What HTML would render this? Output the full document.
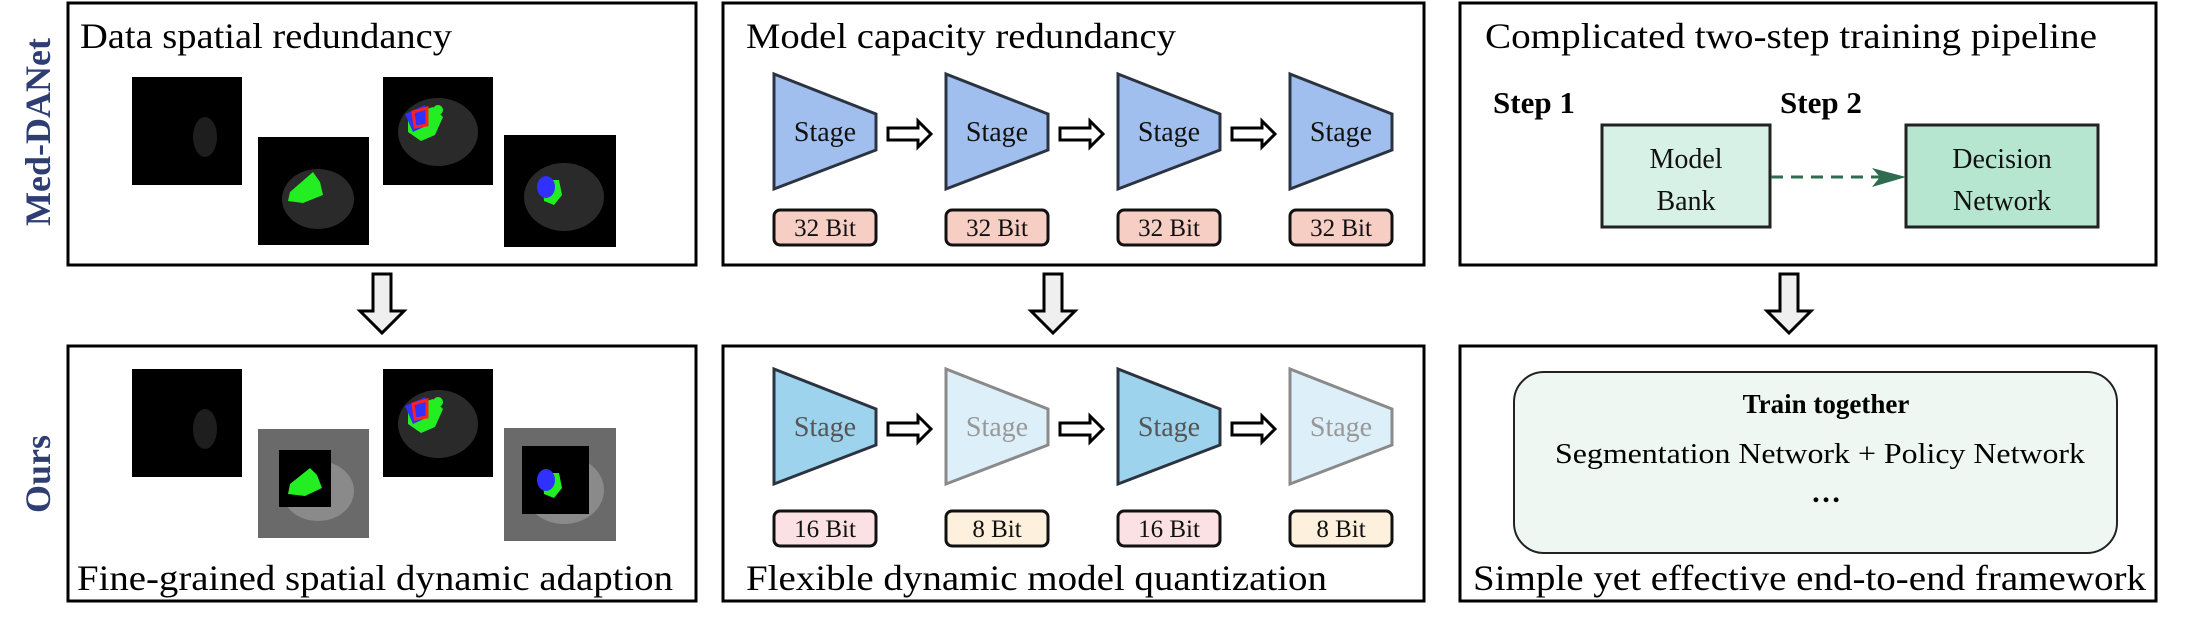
<!DOCTYPE html>
<html><head><meta charset="utf-8"><style>
html,body{margin:0;padding:0;background:#fff;}
svg{display:block;font-family:"Liberation Serif","Times New Roman",serif;}
svg text{font-family:"Liberation Serif","Times New Roman",serif;}
</style></head><body>
<svg width="2185" height="618" viewBox="0 0 2185 618" xmlns="http://www.w3.org/2000/svg" font-family="Liberation Serif, serif">
<defs>
<g id="rarr"><path d="M0,-6 L30,-6 L30,-13 L43,0 L30,13 L30,6 L0,6 Z" fill="#fff" stroke="#000" stroke-width="3" stroke-linejoin="miter"/></g>
<g id="darr"><path d="M-9,0 L9,0 L9,37 L22,37 L0,59 L-22,37 L-9,37 Z" fill="#efefef" stroke="#000" stroke-width="3"/></g>
<g id="brainA"><rect x="0" y="0" width="110" height="108" fill="#000"/><ellipse cx="73" cy="60" rx="12" ry="20" fill="#1e1e1e"/></g>
<g id="brainB"><rect x="0" y="0" width="111" height="108" fill="#000"/><ellipse cx="60" cy="62" rx="36" ry="30" fill="#2a2a2a"/><path d="M32,55 L55,35 L62,45 L65,58 L45,66 L30,64 Z" fill="#22ee22"/></g>
<g id="brainC"><rect x="0" y="0" width="110" height="108" fill="#000"/><ellipse cx="55" cy="55" rx="40" ry="34" fill="#2a2a2a"/><path d="M25,38 L50,30 L60,40 L52,58 L38,64 L25,55 Z" fill="#22ee22"/><path d="M22,37 L42,28 L45,48 L30,55 Z" fill="#3030ff"/><path d="M30,35 L44,31 L44,48 L32,50 Z" fill="none" stroke="#ff2020" stroke-width="3"/><circle cx="55" cy="33" r="5" fill="#22ee22"/></g>
<g id="brainD"><rect x="0" y="0" width="112" height="112" fill="#000"/><ellipse cx="60" cy="62" rx="40" ry="34" fill="#2a2a2a"/><path d="M38,45 L55,45 L58,60 L50,70 L40,66 Z" fill="#22ee22"/><ellipse cx="42" cy="52" rx="9" ry="11" fill="#3030ff"/></g>
</defs>

<text transform="translate(50,132) rotate(-90)" font-size="36" font-weight="bold" fill="#2e3d72" text-anchor="middle">Med-DANet</text>
<text transform="translate(50,474) rotate(-90)" font-size="36" font-weight="bold" fill="#2e3d72" text-anchor="middle">Ours</text>

<g fill="none" stroke="#000" stroke-width="3">
<rect x="68" y="3" width="628" height="262"/>
<rect x="68" y="346" width="628" height="255"/>
<rect x="723" y="3" width="701" height="262"/>
<rect x="723" y="346" width="701" height="255"/>
<rect x="1460" y="3" width="696" height="262"/>
<rect x="1460" y="346" width="696" height="255"/>
</g>

<use href="#darr" x="382" y="274"/>
<use href="#darr" x="1053" y="274"/>
<use href="#darr" x="1789" y="274"/>

<text x="80" y="48" font-size="36" textLength="372" lengthAdjust="spacingAndGlyphs">Data spatial redundancy</text>
<use href="#brainA" x="132" y="77"/>
<use href="#brainB" x="258" y="137"/>
<use href="#brainC" x="383" y="77"/>
<use href="#brainD" x="504" y="135"/>

<use href="#brainA" x="132" y="369"/>
<rect x="258" y="429" width="111" height="109" fill="#6a6a6a"/>
<ellipse cx="318" cy="491" rx="36" ry="30" fill="#8a8a8a"/>
<rect x="279" y="450" width="52" height="57" fill="#000"/>
<path d="M290,484 L310,468 L317,475 L322,488 L305,496 L288,494 Z" fill="#22ee22"/>
<use href="#brainC" x="383" y="369"/>
<rect x="504" y="428" width="112" height="113" fill="#6a6a6a"/>
<ellipse cx="564" cy="490" rx="40" ry="34" fill="#8a8a8a"/>
<rect x="522" y="446" width="67" height="68" fill="#000"/>
<path d="M542,473 L559,473 L562,488 L554,498 L544,494 Z" fill="#22ee22"/>
<ellipse cx="546" cy="480" rx="9" ry="11" fill="#3030ff"/>
<text x="77" y="590" font-size="36" textLength="596" lengthAdjust="spacingAndGlyphs">Fine-grained spatial dynamic adaption</text>

<text x="746" y="48" font-size="36" textLength="430" lengthAdjust="spacingAndGlyphs">Model capacity redundancy</text>
<g stroke="#2b3340" stroke-width="3" fill="#a0bfee">
<path d="M774,74 L876,114 L876,150 L774,189 Z"/>
<path d="M946,74 L1048,114 L1048,150 L946,189 Z"/>
<path d="M1118,74 L1220,114 L1220,150 L1118,189 Z"/>
<path d="M1290,74 L1392,114 L1392,150 L1290,189 Z"/>
</g>
<g font-size="28" text-anchor="middle" fill="#111">
<text x="825" y="141">Stage</text><text x="997" y="141">Stage</text><text x="1169" y="141">Stage</text><text x="1341" y="141">Stage</text>
</g>
<use href="#rarr" x="888" y="134"/><use href="#rarr" x="1060" y="134"/><use href="#rarr" x="1232" y="134"/>
<g stroke="#111" stroke-width="3" fill="#f6cec4">
<rect x="774" y="210" width="102" height="35" rx="6"/>
<rect x="946" y="210" width="102" height="35" rx="6"/>
<rect x="1118" y="210" width="102" height="35" rx="6"/>
<rect x="1290" y="210" width="102" height="35" rx="6"/>
</g>
<g font-size="25" text-anchor="middle" fill="#111">
<text x="825" y="236">32 Bit</text><text x="997" y="236">32 Bit</text><text x="1169" y="236">32 Bit</text><text x="1341" y="236">32 Bit</text>
</g>

<path d="M774,369 L876,409 L876,445 L774,484 Z" fill="#9dd3ec" stroke="#2b3340" stroke-width="3"/>
<path d="M946,369 L1048,409 L1048,445 L946,484 Z" fill="#ddeff9" stroke="#8a8a8a" stroke-width="3"/>
<path d="M1118,369 L1220,409 L1220,445 L1118,484 Z" fill="#9dd3ec" stroke="#2b3340" stroke-width="3"/>
<path d="M1290,369 L1392,409 L1392,445 L1290,484 Z" fill="#ddeff9" stroke="#8a8a8a" stroke-width="3"/>
<g font-size="28" text-anchor="middle">
<text x="825" y="436" fill="#555">Stage</text><text x="997" y="436" fill="#999">Stage</text><text x="1169" y="436" fill="#555">Stage</text><text x="1341" y="436" fill="#999">Stage</text>
</g>
<use href="#rarr" x="888" y="429"/><use href="#rarr" x="1060" y="429"/><use href="#rarr" x="1232" y="429"/>
<g stroke="#111" stroke-width="3">
<rect x="774" y="511" width="102" height="35" rx="6" fill="#fbe0e4"/>
<rect x="946" y="511" width="102" height="35" rx="6" fill="#fdf0dc"/>
<rect x="1118" y="511" width="102" height="35" rx="6" fill="#fbe0e4"/>
<rect x="1290" y="511" width="102" height="35" rx="6" fill="#fdf0dc"/>
</g>
<g font-size="25" text-anchor="middle" fill="#111">
<text x="825" y="537">16 Bit</text><text x="997" y="537">8 Bit</text><text x="1169" y="537">16 Bit</text><text x="1341" y="537">8 Bit</text>
</g>
<text x="746" y="590" font-size="36" textLength="581" lengthAdjust="spacingAndGlyphs">Flexible dynamic model quantization</text>

<text x="1485" y="48" font-size="36" textLength="612" lengthAdjust="spacingAndGlyphs">Complicated two-step training pipeline</text>
<text x="1493" y="113" font-size="31" font-weight="bold">Step 1</text>
<text x="1780" y="113" font-size="31" font-weight="bold">Step 2</text>
<rect x="1602" y="125" width="168" height="102" fill="#d8f1e6" stroke="#222" stroke-width="3"/>
<rect x="1906" y="125" width="192" height="102" fill="#b6e6d0" stroke="#222" stroke-width="3"/>
<g font-size="28" text-anchor="middle" fill="#111">
<text x="1686" y="168">Model</text><text x="1686" y="210">Bank</text>
<text x="2002" y="168">Decision</text><text x="2002" y="210">Network</text>
</g>
<line x1="1771" y1="177" x2="1888" y2="177" stroke="#2e6b4f" stroke-width="3" stroke-dasharray="12,8"/>
<path d="M1872,168 L1906,177 L1872,187 L1880,177 Z" fill="#2e6b4f"/>
<rect x="1514" y="372" width="603" height="181" rx="30" fill="#eef7f1" stroke="#222" stroke-width="2"/>
<text x="1826" y="413" font-size="27" font-weight="bold" text-anchor="middle">Train together</text>
<text x="1820" y="463" font-size="29" text-anchor="middle" textLength="530" lengthAdjust="spacingAndGlyphs">Segmentation Network + Policy Network</text>
<text x="1826" y="502" font-size="30" font-weight="bold" text-anchor="middle">…</text>
<text x="1473" y="590" font-size="36" textLength="673" lengthAdjust="spacingAndGlyphs">Simple yet effective end-to-end framework</text>
</svg>
</body></html>
